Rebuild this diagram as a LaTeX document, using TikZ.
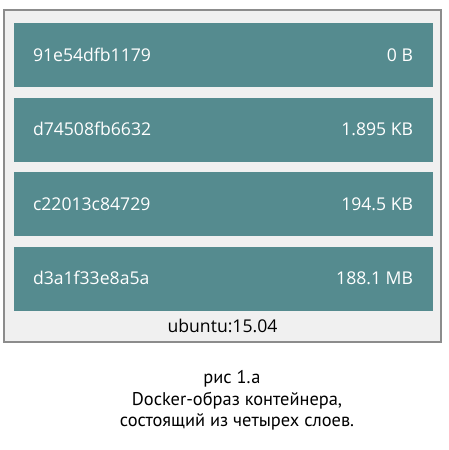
\documentclass[tikz,border=0pt]{standalone}
\usepackage{fontspec}
\setmainfont{Open Sans}
\newfontfamily\capfont{PT Sans}
\usetikzlibrary{positioning}
\definecolor{layerteal}{HTML}{558B8F}
\definecolor{framegray}{HTML}{F0F0F0}
\definecolor{edgegray}{HTML}{8C8C8C}

\begin{document}
\begin{tikzpicture}[x=1pt, y=-1pt, font=\fontsize{17.6}{20}\selectfont]
   \useasboundingbox (0,0) rectangle (448,450);
   \draw[draw=edgegray, fill=framegray, line width=2pt] (4,10) rectangle (441,342);
   \begin{scope}[every node/.style={rectangle,fill=layerteal,minimum width=419pt,minimum height=64pt,inner sep=0pt}]
    \node (l1) at (223.5,55) {};
    \node (l2) at (223.5,129.5) {};
    \node (l3) at (223.5,204) {};
    \node (l4) at (223.5,278.5) {};
   \end{scope}
   \begin{scope}[every node/.style={text=white,inner sep=0pt}]
    \node[anchor=base west] (id1) at ([xshift=19pt,yshift=-6pt]l1.west) {91e54dfb1179};
    \node[anchor=base east] (sz1) at ([xshift=-20pt,yshift=-6pt]l1.east) {0 B};
    \node[anchor=base west] (id2) at ([xshift=19pt,yshift=-6pt]l2.west) {d74508fb6632};
    \node[anchor=base east] (sz2) at ([xshift=-20pt,yshift=-6pt]l2.east) {1.895 KB};
    \node[anchor=base west] (id3) at ([xshift=19pt,yshift=-6pt]l3.west) {c22013c84729};
    \node[anchor=base east] (sz3) at ([xshift=-20pt,yshift=-6pt]l3.east) {194.5 KB};
    \node[anchor=base west] (id4) at ([xshift=19pt,yshift=-6pt]l4.west) {d3a1f33e8a5a};
    \node[anchor=base east] (sz4) at ([xshift=-20pt,yshift=-6pt]l4.east) {188.1 MB};
   \end{scope}
   \node (base) at (222.5,326) {ubuntu:15.04};
   % caption
   \begin{scope}[every node/.style={font=\capfont\fontsize{18.4}{20}\selectfont,inner sep=0pt}]
    \node (cap1) at (232,379) {рис 1.а};
    \node (cap2) at (237,401) {Docker-образ контейнера,};
    \node (cap3) at (237,422) {состоящий из четырех слоев.};
   \end{scope}
\end{tikzpicture}
\end{document}
